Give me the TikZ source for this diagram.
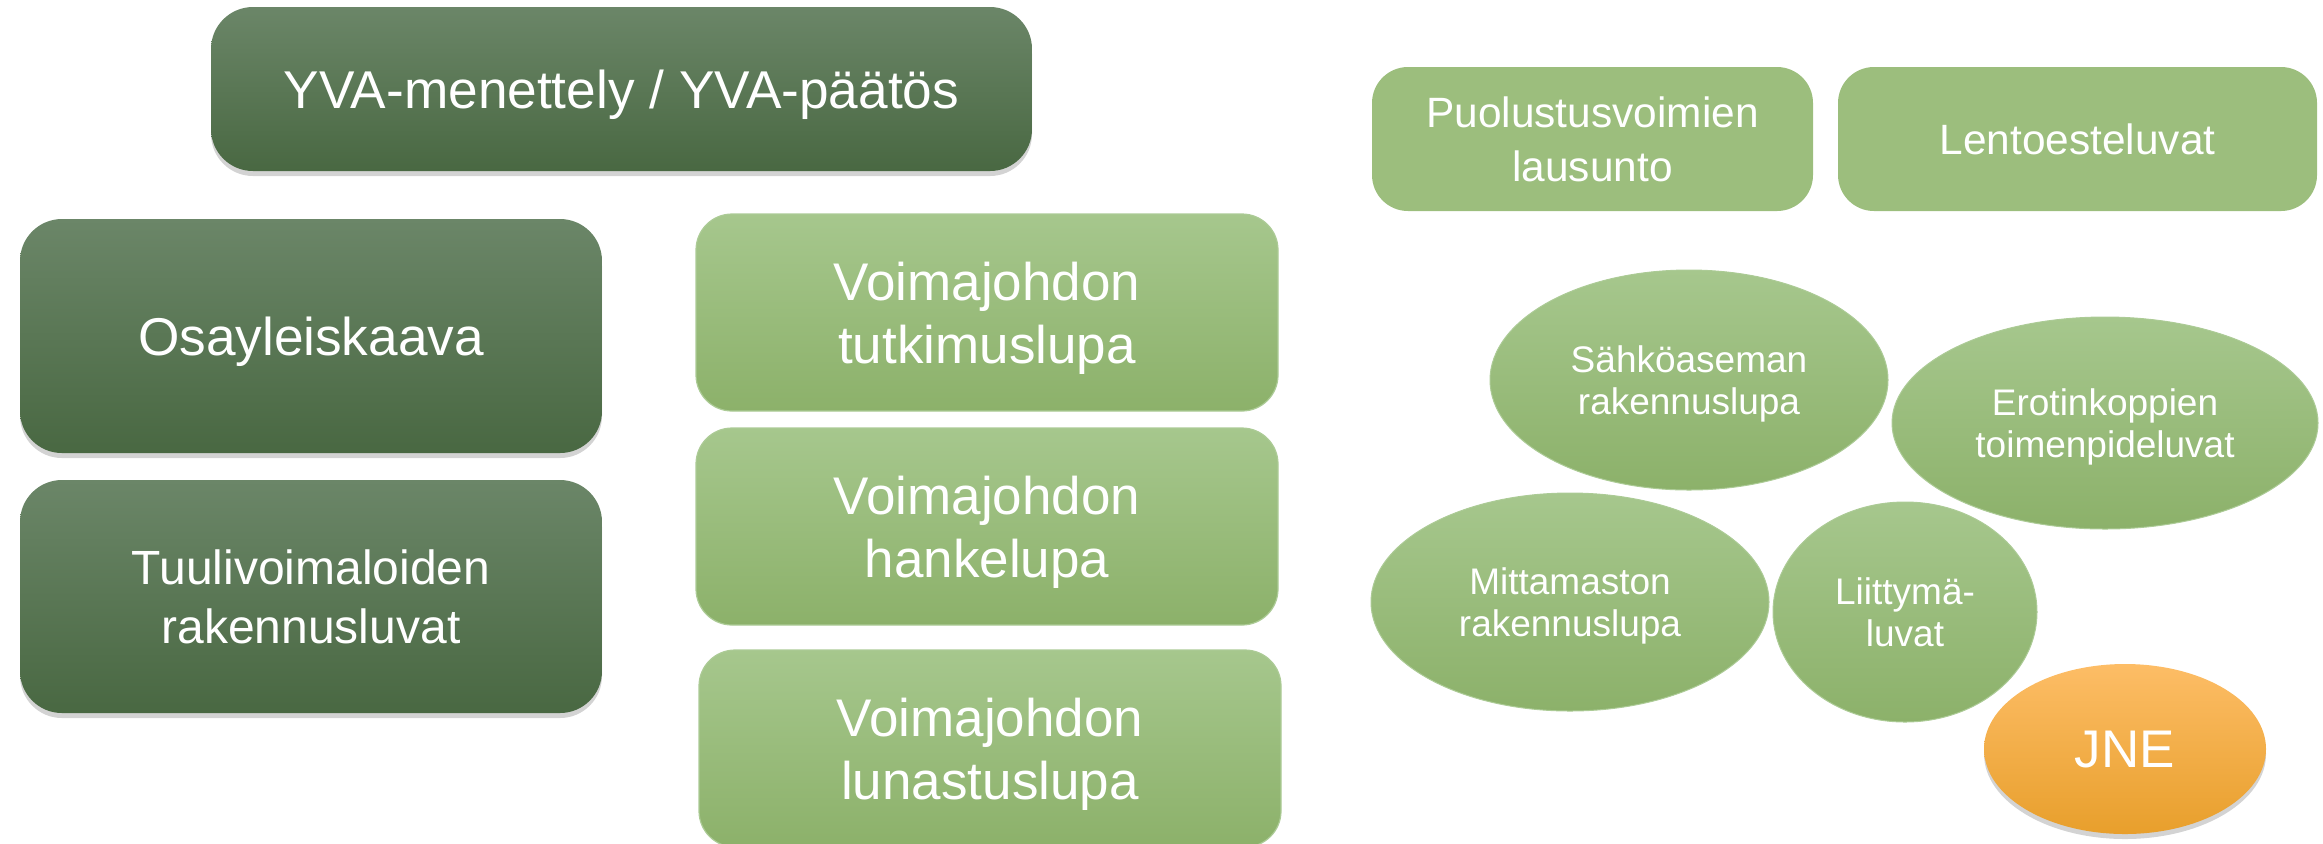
\documentclass[tikz,border=0pt]{standalone}
\usepackage{fontspec}
\setmainfont{Liberation Sans}
\usetikzlibrary{shapes.geometric,shadows}
\definecolor{dkT}{RGB}{107,134,104}
\definecolor{dkB}{RGB}{73,104,66}
\definecolor{ltT}{RGB}{166,199,141}
\definecolor{ltB}{RGB}{140,177,106}
\definecolor{ltE}{RGB}{172,203,150}
\definecolor{flat}{RGB}{156,190,125}
\definecolor{orT}{RGB}{253,189,102}
\definecolor{orB}{RGB}{232,159,44}
\begin{document}
\begin{tikzpicture}[x=0.5pt,y=-0.5pt,
  base/.style={text=white, align=center, inner sep=0pt, text depth=0pt},
  dark/.style={base, rounded corners=21pt, top color=dkT, bottom color=dkB,
    drop shadow={shadow xshift=0pt, shadow yshift=-2.5pt, opacity=0.35}},
  light/.style={base, rounded corners=18pt, top color=ltT, bottom color=ltB, draw=ltE, line width=0.6pt},
  flatbox/.style={base, rounded corners=18pt, fill=flat},
  oval/.style={base, ellipse, top color=ltT, bottom color=ltB, draw=ltE, line width=0.5pt},
  jneoval/.style={base, ellipse, top color=orT, bottom color=orB,
    drop shadow={shadow xshift=0pt, shadow yshift=-2.5pt, opacity=0.35}},
  fbig/.style={font=\fontsize{26.6}{32}\selectfont},
  fmid/.style={font=\fontsize{26.5}{31.3}\selectfont},
  ftw/.style={font=\fontsize{24}{29.2}\selectfont},
  fsm/.style={font=\fontsize{21.2}{27}\selectfont},
  fov/.style={font=\fontsize{18.5}{21.2}\selectfont}]
\useasboundingbox (0,0) rectangle (2323,843);
% left column
\node[dark, fbig, minimum width=410.5pt, minimum height=82pt] (yva) at (621.5,89) {YVA-menettely / YVA-päätös};
\node[dark, fbig, minimum width=291pt, minimum height=117pt] (osa) at (311,336) {Osayleiskaava};
\node[dark, ftw, minimum width=291pt, minimum height=116.5pt] (tuuli) at (311,596.5) {Tuulivoimaloiden\\rakennusluvat};
% middle column
\node[light, fmid, minimum width=291pt, minimum height=98.5pt] (tutk) at (987,312.5) {Voimajohdon\\tutkimuslupa};
\node[light, fmid, minimum width=291pt, minimum height=98.5pt] (hanke) at (987,526.5) {Voimajohdon\\hankelupa};
\node[light, fmid, minimum width=291pt, minimum height=98.5pt] (lunas) at (990,748.5) {Voimajohdon\\lunastuslupa};
% right top
\node[flatbox, fsm, minimum width=220.5pt, minimum height=72pt] (puol) at (1592.5,139) {Puolustusvoimien\\lausunto};
\node[flatbox, fsm, minimum width=239.5pt, minimum height=72pt] (lento) at (2077.5,139) {Lentoesteluvat};
% ellipses
\node[oval, fov, minimum width=199pt, minimum height=110pt] (sahko) at (1689,380) {Sähköaseman\\rakennuslupa};
\node[oval, fov, minimum width=213pt, minimum height=106pt] (erotin) at (2105,423) {Erotinkoppien\\toimenpideluvat};
\node[oval, fov, minimum width=199pt, minimum height=109pt] (mitta) at (1570,602) {Mittamaston\\rakennuslupa};
\node[oval, fov, minimum width=132pt, minimum height=110pt] (liitty) at (1905,612) {Liittymä-\\luvat};
\node[jneoval, fmid, minimum width=141pt, minimum height=85pt] (jne) at (2125,749) {JNE};
\end{tikzpicture}
\end{document}
